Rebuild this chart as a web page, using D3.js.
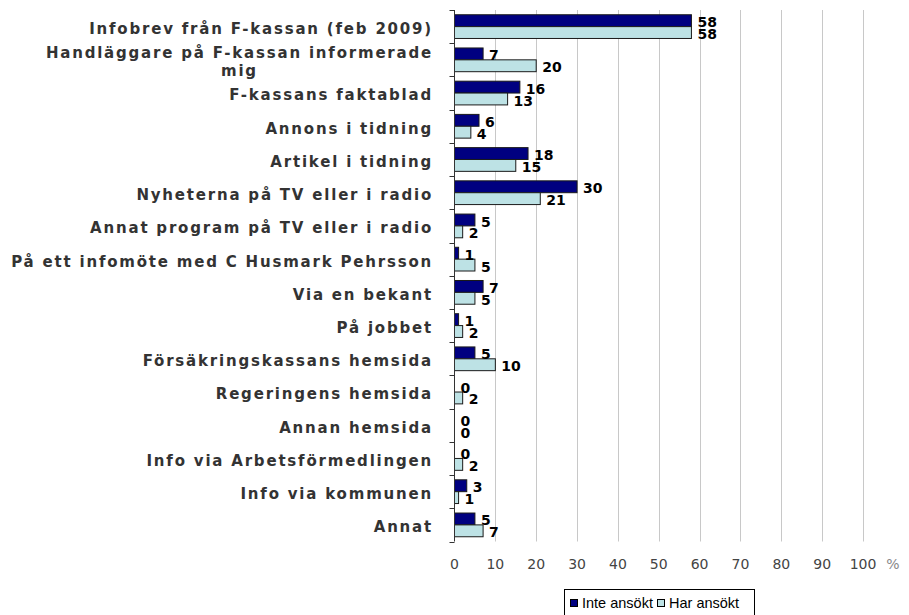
<!DOCTYPE html>
<html>
<head>
<meta charset="utf-8">
<script src="https://cdn.jsdelivr.net/npm/d3@7"></script>
<style>
  body { margin: 0; background: #fff; }
  svg { display: block; }
</style>
</head>
<body>
<svg id="chart" width="909" height="615"></svg>
<script>
// kategorier (uppifrån och ner)
var categories = [
    "Infobrev från F-kassan (feb 2009)",
    "Handläggare på F-kassan informerade|mig",
    "F-kassans faktablad",
    "Annons i tidning",
    "Artikel i tidning",
    "Nyheterna på TV eller i radio",
    "Annat program på TV eller i radio",
    "På ett infomöte med C Husmark Pehrsson",
    "Via en bekant",
    "På jobbet",
    "Försäkringskassans hemsida",
    "Regeringens hemsida",
    "Annan hemsida",
    "Info via Arbetsförmedlingen",
    "Info via kommunen",
    "Annat"
];
var inteAnsokt = [58, 7, 16, 6, 18, 30, 5, 1, 7, 1, 5, 0, 0, 0, 3, 5];
var harAnsokt = [58, 20, 13, 4, 15, 21, 2, 5, 5, 2, 10, 2, 0, 2, 1, 7];
var seriesNames = ["Inte ansökt", "Har ansökt"];
var xTicks = [0, 10, 20, 30, 40, 50, 60, 70, 80, 90, 100];

var svg = d3.select("#chart");
var plotLeft = 454.5, plotRight = 863, plotTop = 10, plotBottom = 541.5;
var colors = ["#000080", "#bde2e5"];

var x = d3.scaleLinear().domain([0, 100]).range([plotLeft, plotRight]);
var y0 = d3.scaleBand().domain(categories).range([plotTop, plotBottom]);
var y1 = d3.scaleBand().domain(seriesNames).range([0, y0.bandwidth()])
    .paddingInner(0).paddingOuter(0.4);

var rows = categories.map(function(c, i) {
    return { cat: c, values: [inteAnsokt[i], harAnsokt[i]] };
});

// gridlines
svg.append("g")
    .selectAll("line")
    .data(xTicks.slice(1))
    .enter()
    .append("line")
        .attr("x1", function(d) { return Math.round(x(d)) + 0.5; })
        .attr("x2", function(d) { return Math.round(x(d)) + 0.5; })
        .attr("y1", plotTop)
        .attr("y2", plotBottom)
        .attr("stroke", "#c8c8c8")
        .attr("stroke-width", 1);

// bars
var groups = svg.append("g")
    .selectAll("g")
    .data(rows)
    .enter()
    .append("g")
        .attr("transform", function(d) { return "translate(0," + y0(d.cat) + ")"; });

groups.selectAll("rect")
    .data(function(d) { return d.values.map(function(v, i) { return { key: seriesNames[i], v: v, i: i }; }); })
    .enter()
    .append("rect")
        .attr("x", x(0))
        .attr("y", function(d) { return y1(d.key); })
        .attr("width", function(d) { return x(d.v) - x(0); })
        .attr("height", y1.bandwidth())
        .attr("fill", function(d) { return colors[d.i]; })
        .attr("stroke", "#1a1a1a")
        .attr("stroke-width", 1);

groups.selectAll("text")
    .data(function(d) { return d.values.map(function(v, i) { return { key: seriesNames[i], v: v, i: i }; }); })
    .enter()
    .append("text")
        .attr("x", function(d) { return x(d.v) + 6; })
        .attr("y", function(d) { return y1(d.key) + y1.bandwidth() / 2 + 1.5; })
        .attr("dy", "0.36em")
        .attr("font-family", "DejaVu Sans, Verdana, sans-serif")
        .attr("font-weight", "bold")
        .attr("font-size", "14px")
        .attr("fill", "#000")
        .text(function(d) { return d.v; });

// y axis
var yAxis = svg.append("g");
yAxis.append("line")
    .attr("x1", plotLeft).attr("x2", plotLeft)
    .attr("y1", plotTop).attr("y2", plotBottom)
    .attr("stroke", "#333");
yAxis.selectAll(".tk")
    .data(categories.concat(["end"]))
    .enter()
    .append("line")
        .attr("x1", plotLeft - 5).attr("x2", plotLeft)
        .attr("y1", function(d, i) { return Math.round(plotTop + i * y0.step()) + 0.5; })
        .attr("y2", function(d, i) { return Math.round(plotTop + i * y0.step()) + 0.5; })
        .attr("stroke", "#333");

// category labels
var labelRight = 433;
var labels = svg.append("g")
    .selectAll("text")
    .data(categories)
    .enter()
    .append("text")
        .attr("font-family", "DejaVu Sans, Verdana, sans-serif")
        .attr("font-weight", "bold")
        .attr("font-size", "15px")
        .attr("letter-spacing", "1.8px")
        .attr("fill", "#333");

labels.each(function(d) {
    var t = d3.select(this);
    var lines = d.split("|");
    var cy = y0(d) + y0.bandwidth() / 2 + 2;
    if (lines.length == 1) {
        t.attr("x", labelRight).attr("y", cy).attr("dy", "0.36em")
            .attr("text-anchor", "end").text(d);
    } else {
        var lh = 18;
        var first = t.append("tspan").attr("x", labelRight).attr("text-anchor", "end")
            .attr("y", cy - lh / 2).attr("dy", "0.36em").text(lines[0]);
        var w = first.node().getComputedTextLength();
        t.append("tspan").attr("x", labelRight - w / 2).attr("text-anchor", "middle")
            .attr("y", cy + lh / 2).attr("dy", "0.36em").text(lines[1]);
    }
});

// x tick labels
svg.append("g")
    .selectAll("text")
    .data(xTicks)
    .enter()
    .append("text")
        .attr("x", function(d) { return x(d); })
        .attr("y", 569)
        .attr("text-anchor", "middle")
        .attr("font-family", "DejaVu Sans, Verdana, sans-serif")
        .attr("font-size", "14px")
        .attr("fill", "#444")
        .text(function(d) { return d; });

svg.append("text")
    .attr("x", 893)
    .attr("y", 569)
    .attr("text-anchor", "middle")
    .attr("font-family", "DejaVu Sans, Verdana, sans-serif")
    .attr("font-size", "14px")
    .attr("fill", "#888")
    .text("%");

// legend
var legend = svg.append("g");
legend.append("rect")
    .attr("x", 564.5).attr("y", 589.5)
    .attr("width", 190).attr("height", 40)
    .attr("fill", "#fff").attr("stroke", "#000");
var legendX = [570, 657];
seriesNames.forEach(function(name, i) {
    legend.append("rect")
        .attr("x", legendX[i] + 0.5).attr("y", 599.5)
        .attr("width", 7).attr("height", 7)
        .attr("fill", colors[i]).attr("stroke", "#000");
    legend.append("text")
        .attr("x", legendX[i] + 12)
        .attr("y", 607.5)
        .attr("font-family", "Liberation Sans, Arial, sans-serif")
        .attr("font-size", "14.5px")
        .attr("fill", "#000")
        .text(name);
});
</script>
</body>
</html>
